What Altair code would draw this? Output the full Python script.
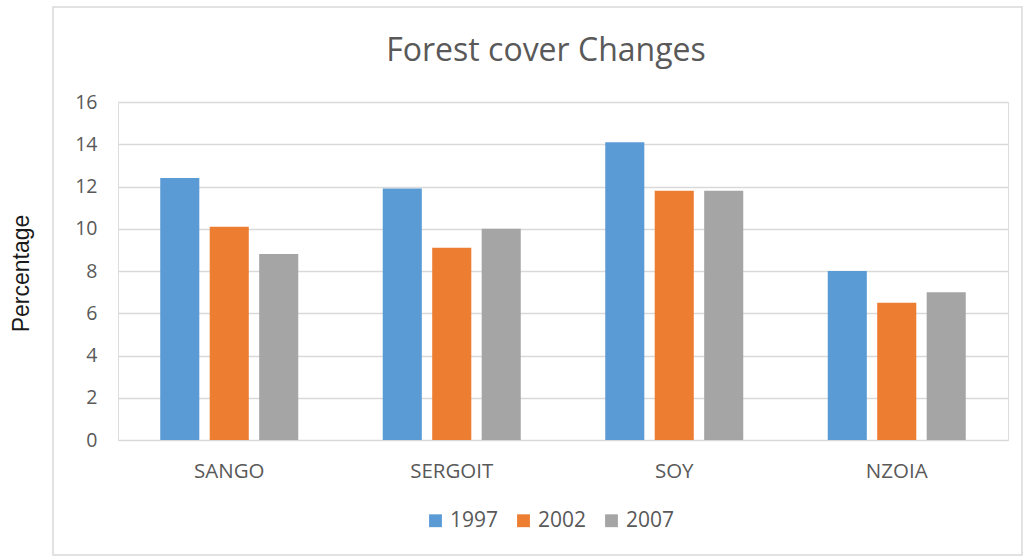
import altair as alt
import pandas as pd

sites = ["SANGO", "SERGOIT", "SOY", "NZOIA"]
years = ["1997", "2002", "2007"]
cover_1997 = [12.4, 11.9, 14.1, 8.0]
cover_2002 = [10.1, 9.1, 11.8, 6.5]
cover_2007 = [8.8, 10.0, 11.8, 7.0]
colors = ["#5B9BD5", "#ED7D31", "#A5A5A5"]
chart_title = "Forest cover Changes"

rows = []
for year, series in zip(years, [cover_1997, cover_2002, cover_2007]):
    for site, val in zip(sites, series):
        rows.append({"site": site, "year": year, "value": val})
df = pd.DataFrame(rows)

FONT = "Open Sans"
GREY = "#595959"

bars = alt.Chart(df).mark_bar().encode(
    x=alt.X("site:N", sort=sites,
            scale=alt.Scale(paddingInner=0.333, paddingOuter=0.1665),
            axis=alt.Axis(title=None, labelAngle=0, domain=False, ticks=False,
                          labelPadding=21, labelFont=FONT, labelFontSize=20.5,
                          labelColor=GREY, grid=False)),
    xOffset=alt.XOffset("year:N", sort=years,
                        scale=alt.Scale(paddingInner=0.21, paddingOuter=0.105)),
    y=alt.Y("value:Q", scale=alt.Scale(domain=[0, 16]),
            axis=alt.Axis(title="Percentage", values=list(range(0, 17, 2)),
                          domain=False, ticks=False, labelPadding=21,
                          labelFont=FONT, labelFontSize=19.5, labelColor=GREY,
                          gridColor="#D9D9D9", gridWidth=1.5,
                          titleFont="Liberation Sans", titleFontSize=23,
                          titleFontWeight="normal", titleColor="#1A1A1A",
                          titleX=-97, titleY=171, titleAngle=-90,
                          titleAlign="center", titleBaseline="middle")),
    color=alt.Color("year:N", sort=years,
                    scale=alt.Scale(domain=years, range=colors),
                    legend=alt.Legend(title=None, orient="none", direction="horizontal",
                                      legendX=307, legendY=408,
                                      symbolType="square", symbolSize=165,
                                      symbolStrokeWidth=0,
                                      labelFont=FONT, labelFontSize=21,
                                      labelColor=GREY, columnPadding=14,
                                      labelOffset=4)),
)

one = pd.DataFrame({"k": [0]})

# outer chart frame
frame = alt.Chart(one).mark_rect(
    fill=None, stroke="#D9D9D9", strokeWidth=1.5
).encode(x=alt.value(-65), x2=alt.value(904), y=alt.value(-95), y2=alt.value(453))

# chart heading
heading = alt.Chart(one).mark_text(
    text=chart_title, font=FONT, fontSize=32, color=GREY,
    align="center", baseline="alphabetic"
).encode(x=alt.value(428), y=alt.value(-41))

chart = alt.layer(frame, bars, heading).properties(
    width=890, height=338,
    padding={"left": 118, "top": 102, "right": 21, "bottom": 117},
    autosize=alt.AutoSizeParams(type="none"),
).configure_view(stroke=None).configure(background="white")

chart.save("out.html", embed_options={"renderer": "svg", "actions": False})
